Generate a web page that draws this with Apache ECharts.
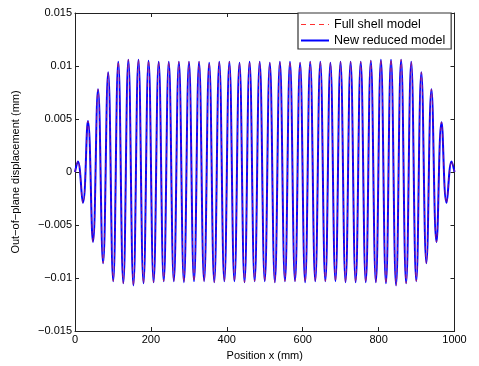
<!DOCTYPE html>
<html>
<head>
<meta charset="utf-8">
<script src="https://cdn.jsdelivr.net/npm/echarts@6/dist/echarts.min.js"></script>
<style>
html,body{margin:0;padding:0;background:#fff;}
#chart{width:479px;height:366px;}
</style>
</head>
<body>
<div id="chart"></div>
<script>
// Positions (mm) of the crests and troughs
var peakPos = [7.5, 34.1, 60.7, 87.4, 114.0, 140.6, 167.2, 193.8, 220.5, 247.1,
  273.7, 300.3, 326.9, 353.6, 380.2, 406.8, 433.4, 460.0, 486.7, 513.3,
  539.9, 566.5, 593.1, 619.8, 646.4, 673.0, 699.6, 726.2, 752.9, 779.5,
  806.1, 832.7, 859.3, 886.0, 912.6, 939.2, 965.8, 992.4];
var peakVal = [0.0010, 0.0048, 0.0078, 0.0094, 0.0104, 0.0106, 0.0106, 0.0105, 0.0104, 0.0104,
  0.0104, 0.0104, 0.0104, 0.0103, 0.0104, 0.0104, 0.0103, 0.0104, 0.0104, 0.0103,
  0.0104, 0.0104, 0.0103, 0.0104, 0.0104, 0.0103, 0.0104, 0.0104, 0.0104, 0.0105,
  0.0106, 0.0106, 0.0106, 0.0104, 0.0094, 0.0078, 0.0047, 0.0010];
var troughPos = [20.8, 47.4, 74.0, 100.7, 127.3, 153.9, 180.5, 207.1, 233.8, 260.4,
  287.0, 313.6, 340.2, 366.9, 393.5, 420.1, 446.7, 473.3, 500.0, 526.6,
  553.2, 579.8, 606.4, 633.1, 659.7, 686.3, 712.9, 739.5, 766.2, 792.8,
  819.4, 846.0, 872.6, 899.3, 925.9, 952.5, 979.1];
var troughVal = [-0.0029, -0.0066, -0.0086, -0.0103, -0.0105, -0.0107, -0.0105, -0.0104, -0.0103, -0.0103,
  -0.0104, -0.0103, -0.0103, -0.0104, -0.0103, -0.0103, -0.0104, -0.0103, -0.0103, -0.0104,
  -0.0103, -0.0103, -0.0104, -0.0103, -0.0103, -0.0103, -0.0104, -0.0104, -0.0104, -0.0104,
  -0.0105, -0.0107, -0.0105, -0.0103, -0.0086, -0.0066, -0.0029];
var endPos = [0, 1000];
var endVal = [0, 0];

var seriesNames = ['Full shell model', 'New reduced model'];
var xTicks = [0, 200, 400, 600, 800, 1000];
var yTickLabels = ['\u22120.015', '\u22120.01', '\u22120.005', '0', '0.005', '0.01', '0.015'];
var xTitle = 'Position x (mm)';
var yTitle = 'Out\u2212of\u2212plane displacement (mm)';

// build the point list
var pts = [[endPos[0], endVal[0]]];
for (var i = 0; i < peakPos.length; i++) {
  pts.push([peakPos[i], peakVal[i]]);
  if (i < troughPos.length) pts.push([troughPos[i], troughVal[i]]);
}
pts.push([endPos[1], endVal[1]]);

var font = 'Liberation Sans, Arial, Helvetica, sans-serif';
var chart = echarts.init(document.getElementById('chart'), null, {renderer: 'canvas'});
var frame = {show: true, onZero: false, lineStyle: {color: '#222', width: 1}};
var tick = {show: true, inside: true, length: 4, lineStyle: {color: '#222'}};
chart.setOption({
  animation: false,
  backgroundColor: '#fff',
  grid: {left: 75, right: 24.5, top: 13, bottom: 34},
  legend: {
    orient: 'vertical',
    left: 298, top: 13,
    data: [
      {name: seriesNames[0], lineStyle: {opacity: 1, color: '#ff3030', width: 1.2, type: [5, 4]}},
      {name: seriesNames[1]}
    ],
    itemWidth: 28, itemHeight: 14, itemGap: 3,
    padding: [5, 6, 2, 2],
    backgroundColor: '#fff',
    borderColor: '#333', borderWidth: 1.2,
    itemStyle: {opacity: 0, borderWidth: 0},
    textStyle: {fontFamily: font, fontSize: 12.5, color: '#000'}
  },
  xAxis: [{
    type: 'value', min: 0, max: 1000, interval: 200,
    name: xTitle, nameLocation: 'middle', nameGap: 19,
    nameTextStyle: {fontFamily: font, fontSize: 11, color: '#000'},
    axisLine: frame, axisTick: tick,
    axisLabel: {fontFamily: font, fontSize: 11, color: '#000', margin: 3,
      formatter: function (v) { return String(xTicks[Math.round(v / 200)]); }},
    splitLine: {show: false}
  }, {
    type: 'value', min: 0, max: 1000, interval: 200, position: 'top',
    axisLine: frame, axisTick: tick,
    axisLabel: {show: false}, splitLine: {show: false}
  }],
  yAxis: [{
    type: 'value', min: -0.015, max: 0.015, interval: 0.005,
    name: yTitle, nameLocation: 'middle', nameGap: 54, nameRotate: 90,
    nameTextStyle: {fontFamily: font, fontSize: 11, color: '#000'},
    axisLine: frame, axisTick: tick,
    axisLabel: {fontFamily: font, fontSize: 11, color: '#000', margin: 3,
      formatter: function (v) { return yTickLabels[Math.round((v + 0.015) / 0.005)]; }},
    splitLine: {show: false}
  }, {
    type: 'value', min: -0.015, max: 0.015, interval: 0.005, position: 'right',
    axisLine: frame, axisTick: tick,
    axisLabel: {show: false}, splitLine: {show: false}
  }],
  series: [{
    name: seriesNames[1], type: 'line', data: pts, smooth: 0.45,
    showSymbol: false, symbol: 'none', z: 2,
    itemStyle: {color: '#0000ff'},
    lineStyle: {color: '#0000ff', width: 2}
  }, {
    name: seriesNames[0], type: 'line', data: pts, smooth: 0.45,
    showSymbol: false, symbol: 'none', z: 3,
    itemStyle: {color: '#ff0000'},
    lineStyle: {color: '#ff2020', width: 1, type: [4, 3], opacity: 0.5}
  }]
});
</script>
</body>
</html>
